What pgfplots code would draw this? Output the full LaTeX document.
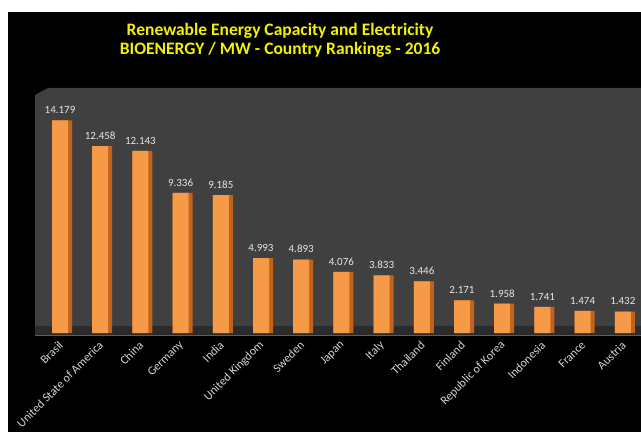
\documentclass[border=0pt]{standalone}
\usepackage{pgfplots}
\pgfplotsset{compat=1.18}
\usepackage{fontspec}
\setmainfont{Carlito}
\definecolor{wall}{HTML}{404040}
\definecolor{floorc}{HTML}{2B2B2B}
\definecolor{edgec}{HTML}{5E5E5E}
\definecolor{titley}{HTML}{F2F200}
\definecolor{barfront}{HTML}{F79A48}
\definecolor{barside}{HTML}{C2631D}
\definecolor{lbl}{HTML}{E6E6E6}
\definecolor{tlbl}{HTML}{D4D4D4}
\begin{document}
\begin{tikzpicture}[x=1pt,y=1pt]
\fill[white] (0,0) rectangle (641,432);
\fill[black] (8,0) rectangle (641,420);
\fill[wall] (35,337) -- (48,344) -- (641,344) -- (641,97) -- (35,97) -- cycle;
\fill[floorc] (35,97) rectangle (641,106);
\draw[edgec, line width=1.5pt] (35,96.5) -- (641,96.5);
\node[font=\bfseries\fontsize{17.5}{19}\selectfont, text=titley, align=center] at (280,391.5) {Renewable Energy Capacity and Electricity\\BIOENERGY / MW - Country Rankings - 2016};
\begin{axis}[at={(35pt,97pt)}, anchor=south west, scale only axis,
  width=606pt, height=247pt,
  xmin=-0.672, xmax=14.403, ymin=-0.133, ymax=16.33,
  axis line style={draw=none}, major tick length=0pt,
  ytick=\empty,
  xtick={0,...,14},
  xticklabels={Brasil,United State of America,China,Germany,India,United Kingdom,Sweden,Japan,Italy,Thailand,Finland,Republic of Korea,Indonesia,France,Austria},
  xticklabel style={rotate=45, anchor=east, font=\fontsize{12}{14}\selectfont, text=tlbl, xshift=-3pt, yshift=-5pt},
  ybar, clip=false,
]
\addplot[draw=none, fill=barside, bar width=20pt, bar shift=0pt] coordinates {
(0,14.179) (1,12.458) (2,12.143) (3,9.336) (4,9.185) (5,4.993) (6,4.893) (7,4.076) (8,3.833) (9,3.446) (10,2.171) (11,1.958) (12,1.741) (13,1.474) (14,1.432)};
\addplot[draw=none, fill=barfront, bar width=16pt, bar shift=-2pt,
  point meta=explicit symbolic,
  nodes near coords, every node near coord/.append style={font=\fontsize{11}{13}\selectfont, text=lbl, yshift=3pt}] coordinates {
(0,14.179) [14.179] (1,12.458) [12.458] (2,12.143) [12.143] (3,9.336) [9.336] (4,9.185) [9.185] (5,4.993) [4.993] (6,4.893) [4.893] (7,4.076) [4.076] (8,3.833) [3.833] (9,3.446) [3.446] (10,2.171) [2.171] (11,1.958) [1.958] (12,1.741) [1.741] (13,1.474) [1.474] (14,1.432) [1.432]};
\end{axis}
\pgfresetboundingbox
\useasboundingbox (0,0) rectangle (641,432);
\end{tikzpicture}
\end{document}
